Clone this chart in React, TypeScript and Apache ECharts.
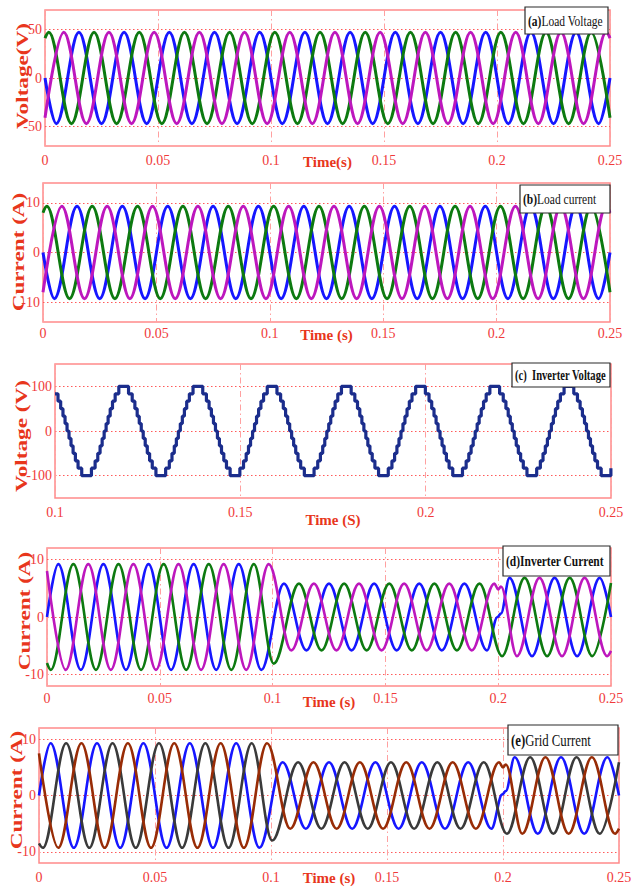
import React, { useEffect, useRef } from "react";
import * as echarts from "echarts";

// ---------------- values ----------------
const timeRangeFull = [0, 0.25];
const timeRangeInverterVoltage = [0.1, 0.25];
const timeTickStep = 0.05;

const loadVoltageYRange = [-70, 70];
const loadVoltageYTicks = [-50, 0, 50];
const loadCurrentYRange = [-14, 14];
const loadCurrentYTicks = [-10, 0, 10];
const inverterVoltageYRange = [-150, 150];
const inverterVoltageYTicks = [-100, 0, 100];
const inverterCurrentYRange = [-12, 12];
const inverterCurrentYTicks = [-10, 0, 10];
const gridCurrentYRange = [-12, 12];
const gridCurrentYTicks = [-10, 0, 10];

// 50 Hz three-phase waves: one extremum every half cycle (s)
const halfCycle = 0.01;

// (a) load voltage and (b) load current: phases blue, green, magenta
const loadPhaseFirstExtremum = [0.005, 0.0017, 0.0083];
const loadPhaseFirstSign = [-1, 1, 1];
const loadVoltagePeaks = [47];
const loadVoltageSegmentEnds = [0.25];
const loadVoltageStart = [0, 41, -41];
const loadVoltageEnd = [0, -41, 41];
const loadCurrentPeaks = [9.3];
const loadCurrentSegmentEnds = [0.25];
const loadCurrentStart = [0, 8, -8];
const loadCurrentEnd = [0, -8, 8];

// (c) inverter voltage: 13-level staircase, one cycle starting at the flat top
const inverterVoltageLevels = [
  100, 83.3, 66.7, 50, 33.3, 16.7, 0, -16.7, -33.3, -50, -66.7, -83.3,
  -100, -83.3, -66.7, -50, -33.3, -16.7, 0, 16.7, 33.3, 50, 66.7, 83.3,
];
const inverterVoltageStepMs = [
  2.62, 0.99, 0.72, 0.62, 0.56, 0.54, 0.53, 0.54, 0.56, 0.62, 0.72, 0.99,
  2.62, 0.99, 0.72, 0.62, 0.56, 0.54, 0.53, 0.54, 0.56, 0.62, 0.72, 0.99,
];
const inverterVoltageFirstTopStart = 0.0972;

// (d) inverter current and (e) grid current: phases blue, green/grey, magenta/brown
const threePhaseFirstExtremum = [0.005, 0.0017, 0.0083];
const threePhaseFirstSign = [1, -1, -1];
const currentSegmentEnds = [0.1, 0.2, 0.25];
const inverterCurrentPeaks = [9.2, 5.8, 6.8];
const inverterCurrentStart = [0, -8, 8];
const inverterCurrentEnd = [0, 5.9, -5.9];
const inverterCurrentTransients = [
  [[0.1997, 0], [0.2012, 0.6]],
  [[0.1005, -8.1]],
  [[0.2, 4.8], [0.2012, 5.3]],
];
const gridCurrentPeaks = [9.3, 5.9, 6.8];
const gridCurrentStart = [0, -8.5, 7.5];
const gridCurrentEnd = [0, 5.9, -5.9];
const gridCurrentTransients = [
  [[0.1997, 0.2], [0.2012, 0.8]],
  [[0.1005, -8.0]],
  [[0.2, 5.0], [0.2012, 5.5]],
];

// ---------------- styles ----------------
const SERIF = '"Liberation Serif", "Times New Roman", serif';
const RED_LABEL = "#f03a3a";
const RED_NAME = "#e8361c";
const FRAME = "#ff8a8a";
const loadColors = ["#1616ff", "#0d7a10", "#bd17bd"];
const inverterVoltageColor = "#1b2d8c";
const inverterCurrentColors = ["#1616ff", "#0d7a10", "#bd17bd"];
const gridCurrentColors = ["#1616ff", "#3a3a3a", "#982c06"];

function sinePoints(
  firstT: number,
  firstSign: number,
  startV: number,
  endV: number,
  peaks: number[],
  segEnds: number[],
  t0: number,
  t1: number,
  extras: number[][]
) {
  const gen: number[][] = [];
  for (let k = 0; k < 1000; k++) {
    const t = Math.round((firstT + k * halfCycle) * 1e6) / 1e6;
    if (t >= t1) break;
    if (t <= t0) continue;
    let seg = segEnds.findIndex((e) => t < e);
    if (seg < 0) seg = peaks.length - 1;
    const sign = k % 2 === 0 ? firstSign : -firstSign;
    gen.push([t, sign * peaks[seg]]);
  }
  const kept = gen.filter((p) => !extras.some((e) => Math.abs(e[0] - p[0]) < 0.0015));
  const all = [[t0, startV], ...kept, ...extras.map((e) => [e[0], e[1]]), [t1, endV]];
  all.sort((a, b) => a[0] - b[0]);
  return all;
}

function stairPoints(levels: number[], stepMs: number[], firstStart: number, t0: number, t1: number) {
  const raw: number[][] = [];
  let t = firstStart;
  while (t < t1) {
    for (let i = 0; i < levels.length && t < t1; i++) {
      raw.push([t, levels[i]]);
      t += stepMs[i] / 1000;
    }
  }
  const before = raw.filter((p) => p[0] <= t0);
  const startLevel = before.length ? before[before.length - 1][1] : raw[0][1];
  const inside = raw.filter((p) => p[0] > t0 && p[0] < t1);
  const last = inside.length ? inside[inside.length - 1][1] : startLevel;
  return [[t0, startLevel], ...inside, [t1, last]];
}

const grids = [
  { left: 45, top: 10, width: 565, height: 136 },
  { left: 43, top: 183, width: 567, height: 139 },
  { left: 55, top: 364, width: 556, height: 134 },
  { left: 47, top: 548, width: 564, height: 138 },
  { left: 39, top: 728, width: 580, height: 135 },
];

const panels = [
  { xRange: timeRangeFull, yRange: loadVoltageYRange, yTicks: loadVoltageYTicks, xName: "Time(s)", nameGap: 8, labelMargin: 7 },
  { xRange: timeRangeFull, yRange: loadCurrentYRange, yTicks: loadCurrentYTicks, xName: "Time (s)", nameGap: 5, labelMargin: 4 },
  { xRange: timeRangeInverterVoltage, yRange: inverterVoltageYRange, yTicks: inverterVoltageYTicks, xName: "Time (S)", nameGap: 14, labelMargin: 7 },
  { xRange: timeRangeFull, yRange: inverterCurrentYRange, yTicks: inverterCurrentYTicks, xName: "Time (s)", nameGap: 8, labelMargin: 5 },
  { xRange: timeRangeFull, yRange: gridCurrentYRange, yTicks: gridCurrentYTicks, xName: "Time (s)", nameGap: 7, labelMargin: 7 },
];

const yNames = [
  { text: "Voltage(V)", x: 22, y: 76 },
  { text: "Current (A)", x: 18, y: 252 },
  { text: "Voltage (V)", x: 21, y: 436 },
  { text: "Current (A)", x: 24, y: 611 },
  { text: "Current (A)", x: 16, y: 790 },
];

const boxes = [
  { tag: "(a)", label: "Load Voltage", x: 525, y: 7, w: 83, h: 27, size: 11.5, boldLabel: false },
  { tag: "(b)", label: "Load current", x: 520, y: 185, w: 90, h: 28, size: 11.5, boldLabel: false },
  { tag: "(c)", label: "  Inverter Voltage", x: 512, y: 363, w: 98, h: 24, size: 10.6, boldLabel: true },
  { tag: "(d)", label: "Inverter Current", x: 503, y: 546, w: 107, h: 30, size: 11.5, boldLabel: true },
  { tag: "(e)", label: "Grid Current", x: 508, y: 725, w: 110, h: 30, size: 12.8, boldLabel: false },
];

function buildOption() {
  const series: any[] = [];
  const lineSeries = (name: string, data: number[][], idx: number, color: string, width: number) => ({
    type: "line",
    name,
    xAxisIndex: idx,
    yAxisIndex: idx,
    data,
    showSymbol: false,
    symbol: "none",
    smooth: 0.36,
    smoothMonotone: "x",
    lineStyle: { color, width },
    itemStyle: { color },
    z: 3,
  });

  const phaseNames = ["A", "B", "C"];
  for (let p = 0; p < 3; p++) {
    series.push(
      lineSeries(
        "Load voltage " + phaseNames[p],
        sinePoints(loadPhaseFirstExtremum[p], loadPhaseFirstSign[p], loadVoltageStart[p], loadVoltageEnd[p], loadVoltagePeaks, loadVoltageSegmentEnds, 0, 0.25, []),
        0, loadColors[p], 3
      )
    );
  }
  for (let p = 0; p < 3; p++) {
    series.push(
      lineSeries(
        "Load current " + phaseNames[p],
        sinePoints(loadPhaseFirstExtremum[p], loadPhaseFirstSign[p], loadCurrentStart[p], loadCurrentEnd[p], loadCurrentPeaks, loadCurrentSegmentEnds, 0, 0.25, []),
        1, loadColors[p], 3
      )
    );
  }
  series.push({
    type: "line",
    name: "Inverter voltage",
    xAxisIndex: 2,
    yAxisIndex: 2,
    data: stairPoints(inverterVoltageLevels, inverterVoltageStepMs, inverterVoltageFirstTopStart, 0.1, 0.25),
    step: "end",
    showSymbol: false,
    symbol: "none",
    lineStyle: { color: inverterVoltageColor, width: 3.2 },
    z: 3,
  });
  for (let p = 0; p < 3; p++) {
    series.push(
      lineSeries(
        "Inverter current " + phaseNames[p],
        sinePoints(threePhaseFirstExtremum[p], threePhaseFirstSign[p], inverterCurrentStart[p], inverterCurrentEnd[p], inverterCurrentPeaks, currentSegmentEnds, 0, 0.25, inverterCurrentTransients[p]),
        3, inverterCurrentColors[p], 2.6
      )
    );
  }
  for (let p = 0; p < 3; p++) {
    series.push(
      lineSeries(
        "Grid current " + phaseNames[p],
        sinePoints(threePhaseFirstExtremum[p], threePhaseFirstSign[p], gridCurrentStart[p], gridCurrentEnd[p], gridCurrentPeaks, currentSegmentEnds, 0, 0.25, gridCurrentTransients[p]),
        4, gridCurrentColors[p], 2.6
      )
    );
  }

  const graphic: any[] = [];
  yNames.forEach((n) => {
    graphic.push({
      type: "text",
      x: n.x,
      y: n.y,
      rotation: Math.PI / 2,
      scaleX: 1.45,
      z: 50,
      style: {
        text: n.text,
        fill: RED_NAME,
        fontFamily: SERIF,
        fontWeight: "bold",
        fontSize: 16,
        align: "center",
        verticalAlign: "middle",
      },
    });
  });
  boxes.forEach((b) => {
    graphic.push({
      type: "rect",
      z: 100,
      shape: { x: b.x, y: b.y, width: b.w, height: b.h },
      style: { fill: "#ffffff", stroke: "#2a2a2a", lineWidth: 1.2 },
    });
    graphic.push({
      type: "text",
      z: 101,
      x: b.x + 3,
      y: b.y + b.h / 2,
      scaleY: 1.35,
      style: {
        text: "{t|" + b.tag + "}{l|" + b.label + "}",
        align: "left",
        verticalAlign: "middle",
        rich: {
          t: { fontFamily: SERIF, fontWeight: "bold", fontSize: b.size, fill: "#111" },
          l: { fontFamily: SERIF, fontWeight: b.boldLabel ? "bold" : "normal", fontSize: b.size, fill: "#111" },
        },
      },
    });
  });

  return {
    animation: false,
    backgroundColor: "#ffffff",
    grid: grids.map((g) => ({
      ...g,
      show: true,
      borderColor: FRAME,
      borderWidth: 1.5,
      containLabel: false,
      outerBoundsMode: "none",
    })),
    xAxis: panels.map((p, i) => ({
      type: "value",
      gridIndex: i,
      min: p.xRange[0],
      max: p.xRange[1],
      interval: timeTickStep,
      name: p.xName,
      nameLocation: "middle",
      nameGap: p.nameGap,
      nameMoveOverlap: false,
      nameTextStyle: { color: RED_NAME, fontFamily: SERIF, fontWeight: "bold", fontSize: 15 },
      axisLine: { show: false },
      axisTick: { show: false },
      axisLabel: { color: RED_LABEL, fontFamily: SERIF, fontSize: 14, margin: p.labelMargin, showMinLabel: true, showMaxLabel: true },
      splitLine: { show: true, lineStyle: { color: "#ffa0a0", width: 1, type: [6, 3, 1.5, 3] } },
    })),
    yAxis: panels.map((p, i) => ({
      type: "value",
      gridIndex: i,
      min: p.yRange[0],
      max: p.yRange[1],
      axisLine: { show: false },
      axisTick: { show: false, customValues: p.yTicks },
      axisLabel: { color: RED_LABEL, fontFamily: SERIF, fontSize: 14, margin: 3, customValues: p.yTicks },
      splitLine: { show: true, lineStyle: { color: "#ff5a5a", width: 1, type: [1.5, 2.5] } },
    })),
    series,
    graphic,
  };
}

export default function App() {
  const ref = useRef<HTMLDivElement>(null);
  useEffect(() => {
    document.body.style.margin = "0";
    if (!ref.current) return;
    const chart = echarts.init(ref.current, undefined, { renderer: "svg" });
    chart.setOption(buildOption() as any);
    return () => chart.dispose();
  }, []);
  return <div ref={ref} style={{ width: 637, height: 887, background: "#fff" }} />;
}
